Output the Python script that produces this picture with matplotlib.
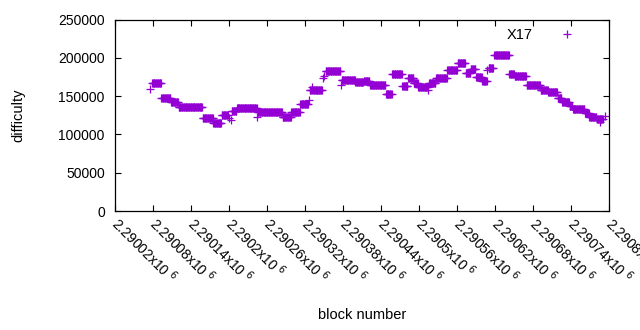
import matplotlib
matplotlib.use("Agg")
import matplotlib.pyplot as plt
from matplotlib.ticker import FixedLocator, FuncFormatter
import numpy as np

plt.rcParams['font.family'] = ['Liberation Sans', 'DejaVu Sans']

# block range and runs of equal difficulty (block offsets from first_block)
first_block = 2290020
last_block = 2290800
seg_start = [56, 59, 74, 89, 101, 139, 156, 169, 181, 183, 185, 193, 225, 226, 265,
             279, 293, 307, 308, 311, 312, 329, 331, 333, 357, 358, 380, 393, 403, 428,
             438, 454, 463, 472, 479, 495, 496, 507, 525, 541, 554, 562, 570, 580, 588,
             590, 599, 623, 631, 650, 672, 684, 699, 706, 718, 723, 742, 749, 761, 765,
             773]
seg_end = [56, 73, 88, 100, 138, 155, 168, 179, 181, 183, 192, 224, 225, 264, 278,
           292, 305, 307, 310, 311, 327, 329, 331, 356, 357, 379, 392, 402, 427, 437,
           453, 462, 471, 478, 494, 495, 506, 524, 540, 553, 561, 569, 579, 587, 588,
           597, 622, 630, 649, 671, 683, 698, 705, 717, 722, 741, 748, 760, 770, 765,
           773]
seg_value = [159100, 166900, 147300, 142900, 135500, 121200, 114600, 125500, 122000, 119000,
             130700, 134200, 122500, 129000, 122500, 130000, 139900, 145000, 158100, 162000,
             158100, 174000, 177000, 182600, 164700, 170800, 168200, 170500, 164700, 152500,
             178700, 163800, 173400, 166900, 162500, 158100, 166900, 173400, 184300, 193000,
             180400, 185200, 174700, 169900, 184000, 186500, 203500, 178700, 175800, 164300,
             157700, 155100, 147300, 142500, 137500, 133300, 128500, 122500, 120500, 116000,
             124500]

blocks = []
difficulty = []
for s, e, v in zip(seg_start, seg_end, seg_value):
    for b in range(s, e + 1):
        blocks.append(first_block + b)
        difficulty.append(v)

purple = '#9400d3'

fig = plt.figure(figsize=(6.4, 3.3), dpi=100)
ax = fig.add_axes([0.179, 0.3606, 0.7726, 0.5797])

ax.plot(blocks, difficulty, linestyle='none', marker='+', markersize=5.2,
        markeredgewidth=0.9, color=purple, label='X17')

ax.set_xlim(first_block, last_block)
ax.set_ylim(0, 250000)
ax.xaxis.set_major_locator(FixedLocator(np.arange(first_block, last_block + 1, 60)))
ax.set_yticks([0, 50000, 100000, 150000, 200000, 250000])
ax.xaxis.set_major_formatter(FuncFormatter(lambda v, p: '%gx10 $^{6}$' % (v / 1e6)))

ax.tick_params(direction='in', length=4, width=0.8, top=True, right=True,
               labelsize=10, colors='black')
ax.tick_params(axis='y', pad=7)
ax.tick_params(axis='x', pad=7)
for lab in ax.get_xticklabels():
    lab.set_rotation(-45)
    lab.set_ha('left')
    lab.set_va('center')
    lab.set_rotation_mode('anchor')

for sp in ax.spines.values():
    sp.set_linewidth(0.9)

ax.set_xlabel('block number', fontsize=10.5, labelpad=15)
ax.set_ylabel('difficulty', fontsize=10.5, labelpad=24)

ax.legend(loc='upper right', markerfirst=False, frameon=False, fontsize=10.5,
          handlelength=1.5, handletextpad=1.6, borderaxespad=0.2,
          bbox_to_anchor=(0.955, 1.0))

fig.savefig('out.png', dpi=100)
